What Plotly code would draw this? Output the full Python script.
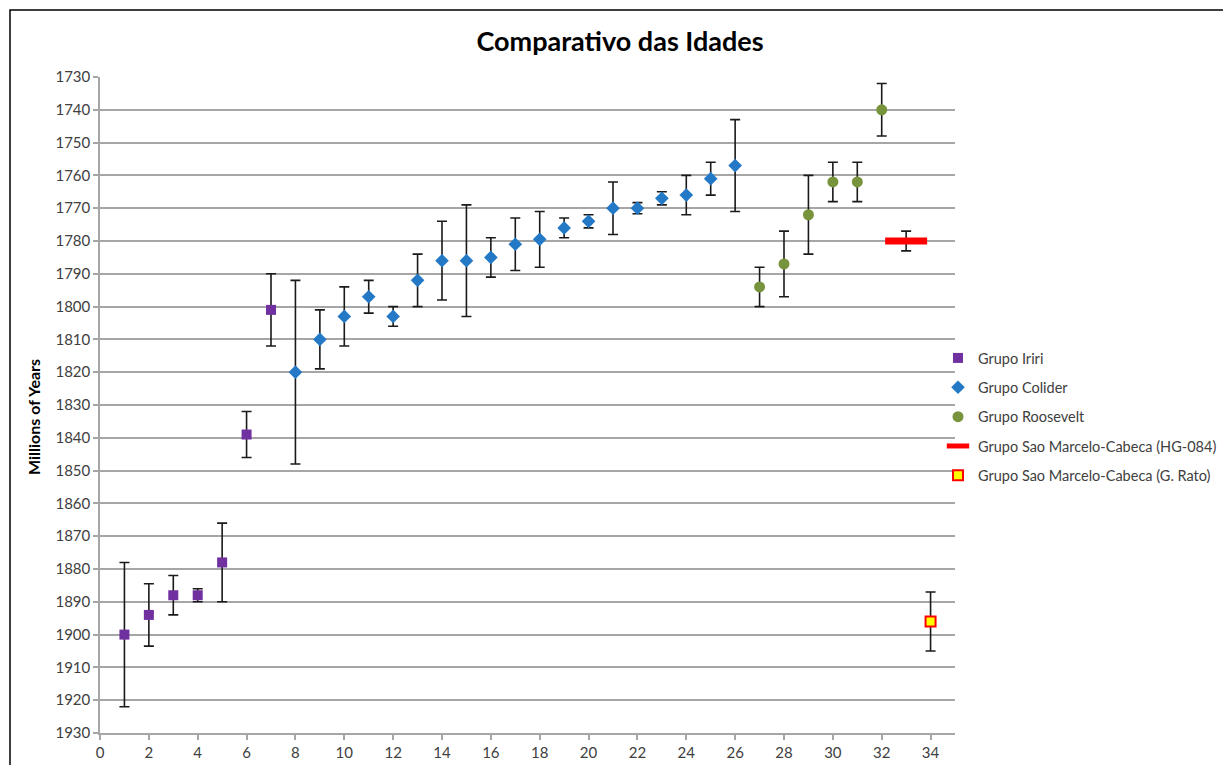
import plotly.graph_objects as go

# Sample numbers along the x axis and ages (Ma) with their uncertainties
iriri_x = [1, 2, 3, 4, 5, 6, 7]
iriri_age = [1900, 1894, 1888, 1888, 1878, 1839, 1801]
iriri_err = [22, 9.5, 6, 2, 12, 7, 11]

colider_x = [8, 9, 10, 11, 12, 13, 14, 15, 16, 17, 18, 19, 20, 21, 22, 23, 24, 25, 26]
colider_age = [1820, 1810, 1803, 1797, 1803, 1792, 1786, 1786, 1785, 1781,
               1779.5, 1776, 1774, 1770, 1770, 1767, 1766, 1761, 1757]
colider_err = [28, 9, 9, 5, 3, 8, 12, 17, 6, 8, 8.5, 3, 2, 8, 1.7, 2, 6, 5, 14]

roosevelt_x = [27, 28, 29, 30, 31, 32]
roosevelt_age = [1794, 1787, 1772, 1762, 1762, 1740]
roosevelt_err = [6, 10, 12, 6, 6, 8]

hg_x = [33]
hg_age = [1780]
hg_err = [3]

rato_x = [34]
rato_age = [1896]
rato_err = [9]

x_ticks = list(range(0, 35, 2))

FONT = "Lato, 'Open Sans', sans-serif"
TXT = "#404040"
GRID = "#A6A6A6"


def err(vals):
    return dict(type="data", array=vals, visible=True, color="#1a1a1a",
                thickness=1.6, width=5)


fig = go.Figure()
fig.add_trace(go.Scatter(
    x=iriri_x, y=iriri_age, mode="markers", name="Grupo Iriri",
    legendgroup="a", error_y=err(iriri_err),
    marker=dict(symbol="square", size=10, color="#7030A0")))
fig.add_trace(go.Scatter(
    x=colider_x, y=colider_age, mode="markers", name="Grupo Colider",
    legendgroup="b", error_y=err(colider_err),
    marker=dict(symbol="diamond", size=10.5, color="#2479C6")))
fig.add_trace(go.Scatter(
    x=roosevelt_x, y=roosevelt_age, mode="markers", name="Grupo Roosevelt",
    legendgroup="c", error_y=err(roosevelt_err),
    marker=dict(symbol="circle", size=11, color="#77933C")))
fig.add_trace(go.Scatter(
    x=hg_x, y=hg_age, mode="markers", name="Grupo Sao Marcelo-Cabeca (HG-084)",
    legendgroup="d", error_y=err(hg_err),
    marker=dict(symbol="line-ew", size=30, color="#FF0000",
                line=dict(color="#FF0000", width=7))))
fig.add_trace(go.Scatter(
    x=rato_x, y=rato_age, mode="markers", name="Grupo Sao Marcelo-Cabeca (G. Rato)",
    legendgroup="e", error_y=err(rato_err),
    marker=dict(symbol="square", size=10, color="#FFFF00",
                line=dict(color="#FF0000", width=2))))

fig.update_layout(
    width=1223, height=765,
    margin=dict(l=100, r=268, t=77, b=32, autoexpand=False),
    paper_bgcolor="white", plot_bgcolor="white",
    font=dict(family=FONT, size=15, color=TXT),
    title=dict(text="<b>Comparativo das Idades</b>", x=620 / 1223, xref="container",
               xanchor="center", y=1 - 42 / 765, yref="container", yanchor="middle",
               font=dict(family=FONT, size=27, color="#000000")),
    showlegend=True,
    legend=dict(x=(938 - 100) / 855, xanchor="left", y=(733 - 342) / 656, yanchor="top",
                font=dict(family=FONT, size=14.5, color=TXT),
                traceorder="grouped", tracegroupgap=7.5,
                bgcolor="rgba(0,0,0,0)", itemwidth=30),
    xaxis=dict(range=[0, 35], tickmode="array", tickvals=x_ticks,
               showgrid=False, zeroline=False, showline=True, automargin=False,
               linecolor=GRID, linewidth=1.5, ticks="outside", ticklen=5,
               tickcolor=GRID, tickwidth=1.5,
               tickfont=dict(family=FONT, size=15, color=TXT)),
    yaxis=dict(range=[1930, 1730], tickmode="linear", tick0=1730, dtick=10,
               showgrid=True, gridcolor=GRID, gridwidth=1.5, zeroline=False,
               showline=True, linecolor=GRID, linewidth=1.5, automargin=False,
               ticks="outside", ticklen=5, tickcolor=GRID, tickwidth=1.5,
               tickfont=dict(family=FONT, size=15, color=TXT)),
    annotations=[dict(text="<b>Millions of Years</b>", textangle=-90,
                      xref="paper", yref="paper", x=(33 - 100) / 855,
                      y=(733 - 417) / 656, xanchor="center", yanchor="middle",
                      showarrow=False,
                      font=dict(family=FONT, size=16, color="#000000"))],
    shapes=[dict(type="rect", xref="paper", yref="paper",
                 x0=(10 - 100) / 855, x1=(1240 - 100) / 855,
                 y0=(733 - 780) / 656, y1=(733 - 10) / 656,
                 line=dict(color="#000000", width=1.5),
                 fillcolor="rgba(0,0,0,0)", layer="below")],
)

fig.write_html("out.html")
